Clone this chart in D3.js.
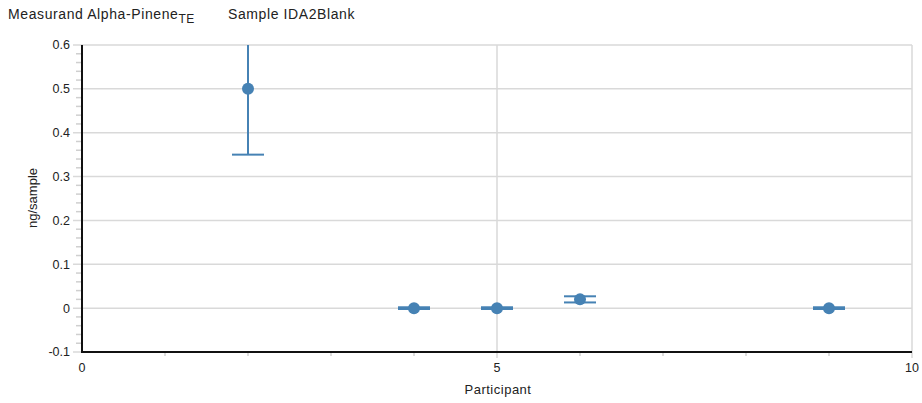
<!DOCTYPE html>
<html><head><meta charset="utf-8">
<script src="https://cdn.jsdelivr.net/npm/d3@7"></script>
<style>
body{margin:0;background:#fff;}
text{font-family:"Liberation Sans",Arial,sans-serif;fill:#222;}
</style></head>
<body><svg id="c" width="922" height="403"></svg>
<script>
const participants = [2, 4, 5, 6, 9];
const values = [0.5, 0, 0, 0.02, 0];
const lower = [0.35, -0.002, -0.002, 0.013, -0.002];
const upper = [0.65, 0.002, 0.002, 0.027, 0.002];
const xTicks = [0, 5, 10];
const yTicks = [-0.1, 0, 0.1, 0.2, 0.3, 0.4, 0.5, 0.6];
const yTickLabels = ["-0.1", "0", "0.1", "0.2", "0.3", "0.4", "0.5", "0.6"];

const svg = d3.select("#c");
const x = d3.scaleLinear().domain([0, 10]).range([82, 912]);
const y = d3.scaleLinear().domain([-0.1, 0.6]).range([352, 45]);
const color = "#4682b4";

svg.append("clipPath").attr("id","clip").append("rect")
  .attr("x", 82).attr("y", 45).attr("width", 830).attr("height", 307);

// horizontal grid
svg.append("g").selectAll("line").data(yTicks).join("line")
  .attr("x1", 73).attr("x2", 912)
  .attr("y1", d => y(d)).attr("y2", d => y(d))
  .attr("stroke", "#d9d9d9").attr("stroke-width", 1.5);
// vertical grid
svg.append("g").selectAll("line").data(xTicks.slice(1)).join("line")
  .attr("x1", d => x(d)).attr("x2", d => x(d))
  .attr("y1", 45).attr("y2", 358)
  .attr("stroke", "#d9d9d9").attr("stroke-width", 1.5);

// y minor ticks
const yMinor = d3.range(-0.1, 0.6001, 0.02).filter(v => !yTicks.some(t => Math.abs(t - v) < 1e-6));
svg.append("g").selectAll("line").data(yMinor).join("line")
  .attr("x1", 76).attr("x2", 82)
  .attr("y1", d => y(d)).attr("y2", d => y(d))
  .attr("stroke", "#cfcfcf").attr("stroke-width", 1.5);
// x minor ticks
const xMinor = d3.range(1, 10).filter(v => v !== 5);
svg.append("g").selectAll("line").data(xMinor).join("line")
  .attr("x1", d => x(d)).attr("x2", d => x(d))
  .attr("y1", 352).attr("y2", 356)
  .attr("stroke", "#d0d0d0").attr("stroke-width", 1.5);

// y tick labels
svg.append("g").selectAll("text").data(yTicks).join("text")
  .attr("x", 70).attr("y", d => y(d)).attr("dy", "0.35em")
  .attr("text-anchor", "end").attr("font-size", 12.5)
  .text((d, i) => yTickLabels[i]);
// x tick labels
svg.append("g").selectAll("text").data(xTicks).join("text")
  .attr("x", d => x(d)).attr("y", 372)
  .attr("text-anchor", "middle").attr("font-size", 12.5)
  .text(d => d);

// axes lines
svg.append("line").attr("x1", 82).attr("x2", 82).attr("y1", 45).attr("y2", 353)
  .attr("stroke", "#111").attr("stroke-width", 2);
svg.append("line").attr("x1", 81).attr("x2", 912).attr("y1", 352).attr("y2", 352)
  .attr("stroke", "#111").attr("stroke-width", 2);

// data
const data = participants.map((p, i) => ({p, v: values[i], lo: lower[i], hi: upper[i]}));
const g = svg.append("g").attr("clip-path", "url(#clip)");
const cap = 16;
g.selectAll(".eb").data(data).join("line")
  .attr("x1", d => x(d.p)).attr("x2", d => x(d.p))
  .attr("y1", d => y(d.lo)).attr("y2", d => y(d.hi))
  .attr("stroke", color).attr("stroke-width", 2);
g.selectAll(".lo").data(data).join("line")
  .attr("x1", d => x(d.p) - cap).attr("x2", d => x(d.p) + cap)
  .attr("y1", d => y(d.lo)).attr("y2", d => y(d.lo))
  .attr("stroke", color).attr("stroke-width", 2);
g.selectAll(".hi").data(data).join("line")
  .attr("x1", d => x(d.p) - cap).attr("x2", d => x(d.p) + cap)
  .attr("y1", d => y(d.hi)).attr("y2", d => y(d.hi))
  .attr("stroke", color).attr("stroke-width", 2);
g.selectAll("circle").data(data).join("circle")
  .attr("cx", d => x(d.p)).attr("cy", d => y(d.v)).attr("r", 6)
  .attr("fill", color);

// titles
const t = svg.append("text").attr("x", 8).attr("y", 19).attr("font-size", 14).attr("letter-spacing", 0.6);
t.append("tspan").text("Measurand Alpha-Pinene");
t.append("tspan").attr("dy", 4).attr("font-size", 12).text("TE");
svg.append("text").attr("x", 228).attr("y", 19).attr("font-size", 14).attr("letter-spacing", 0.6).text("Sample IDA2Blank");

// axis labels
svg.append("text").attr("x", 498).attr("y", 394).attr("text-anchor", "middle")
  .attr("font-size", 13).attr("letter-spacing", 0.5).text("Participant");
svg.append("text").attr("transform", "translate(37,198) rotate(-90)")
  .attr("text-anchor", "middle").attr("font-size", 13).text("ng/sample");
</script></body></html>
